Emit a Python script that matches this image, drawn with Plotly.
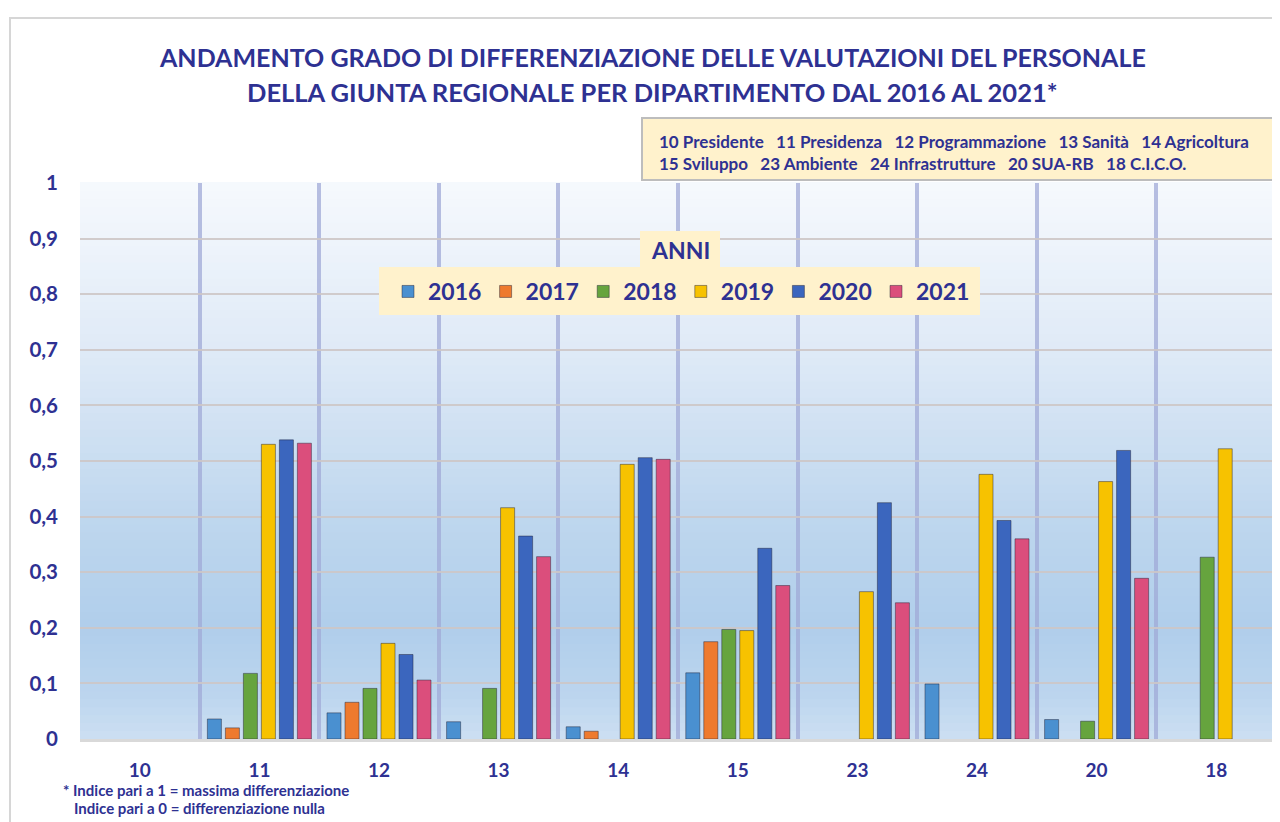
import plotly.graph_objects as go

# ---------------- data ----------------
categories = ["10", "11", "12", "13", "14", "15", "23", "24", "20", "18"]
years = ["2016", "2017", "2018", "2019", "2020", "2021"]
v2016 = [None, 0.036, 0.047, 0.031, 0.022, 0.119, None, 0.099, 0.035, None]
v2017 = [None, 0.020, 0.066, None, 0.014, 0.175, None, None, None, None]
v2018 = [None, 0.118, 0.091, 0.091, None, 0.197, None, None, 0.032, 0.327]
v2019 = [None, 0.530, 0.172, 0.416, 0.494, 0.195, 0.265, 0.476, 0.463, 0.522]
v2020 = [None, 0.538, 0.152, 0.365, 0.506, 0.343, 0.425, 0.393, 0.519, None]
v2021 = [None, 0.532, 0.106, 0.328, 0.503, 0.276, 0.245, 0.360, 0.289, None]
series = [v2016, v2017, v2018, v2019, v2020, v2021]

y_tickvals = [0, 0.1, 0.2, 0.3, 0.4, 0.5, 0.6, 0.7, 0.8, 0.9, 1.0]
y_ticktext = ["0", "0,1", "0,2", "0,3", "0,4", "0,5", "0,6", "0,7", "0,8", "0,9", "1"]

title_line1 = "ANDAMENTO GRADO DI DIFFERENZIAZIONE DELLE VALUTAZIONI DEL PERSONALE"
title_line2 = "DELLA GIUNTA REGIONALE PER DIPARTIMENTO DAL 2016 AL 2021*"
dept_line1 = ["10 Presidente", "11 Presidenza", "12 Programmazione", "13 Sanità", "14 Agricoltura"]
dept_line2 = ["15 Sviluppo", "23 Ambiente", "24 Infrastrutture", "20 SUA-RB", "18 C.I.C.O."]
legend_title = "ANNI"
note_line1 = "* Indice pari a 1 = massima differenziazione"
note_line2 = "Indice pari a 0 = differenziazione nulla"

# ---------------- style ----------------
colors = ["#4A90D0", "#EE7A2E", "#66A43E", "#F7C200", "#3B66BE", "#DB4E7C"]
navy = "#2E3192"
beige = "#FFF2CC"
FONT = "Lato"

OFF = 8                      # page body margin
W, H = 1272, 814
L, R, T, B = 72, 4, 175, 83  # plot area (page) 80..1276 x 183..739
PW, PH = W - L - R, H - T - B


def px_x(px):
    return (px - OFF - L) / PW


def px_y(py):
    return (H - B - (py - OFF)) / PH


fig = go.Figure()
for name, vals, col in zip(years, series, colors):
    fig.add_trace(go.Bar(
        name="<b>%s</b>" % name, x=categories, y=vals,
        marker=dict(color=col, line=dict(color="rgba(30,30,50,0.45)", width=1)),
    ))

# background gradient of plot area
stops = [(0.0, (204, 223, 242)), (0.08, (188, 213, 238)), (0.2, (176, 206, 235)),
         (0.4, (191, 215, 238)), (0.7, (223, 234, 247)), (1.0, (246, 249, 253))]


def col_at(t):
    for (a, ca), (b, cb) in zip(stops[:-1], stops[1:]):
        if a <= t <= b:
            f = (t - a) / (b - a)
            return "rgb(%d,%d,%d)" % tuple(round(ca[i] + (cb[i] - ca[i]) * f) for i in range(3))
    return "rgb(%d,%d,%d)" % stops[-1][1]


shapes = []
N = 70
for i in range(N):
    y0 = i / N
    y1 = (i + 1) / N
    shapes.append(dict(type="rect", xref="paper", yref="paper", x0=0, x1=1, y0=y0, y1=y1 + 0.002,
                       fillcolor=col_at((y0 + y1) / 2), line=dict(width=0), layer="below"))

# outer frame
shapes.append(dict(type="rect", xref="paper", yref="paper",
                   x0=px_x(10), x1=px_x(1300), y0=px_y(860), y1=px_y(18),
                   fillcolor="rgba(0,0,0,0)", line=dict(color="#D6D6D6", width=2), layer="below"))
# department box
shapes.append(dict(type="rect", xref="paper", yref="paper",
                   x0=px_x(642), x1=px_x(1278), y0=px_y(180), y1=px_y(118),
                   fillcolor=beige, line=dict(color="#BDBDBD", width=2), layer="above"))
# legend boxes
shapes.append(dict(type="rect", xref="paper", yref="paper",
                   x0=px_x(379), x1=px_x(980), y0=px_y(315), y1=px_y(267),
                   fillcolor=beige, line=dict(width=0), layer="above"))
shapes.append(dict(type="rect", xref="paper", yref="paper",
                   x0=px_x(640), x1=px_x(720), y0=px_y(267.5), y1=px_y(231),
                   fillcolor=beige, line=dict(width=0), layer="above"))

sp = "\u00a0\u00a0\u00a0"
annotations = [
    dict(text="<b>%s</b>" % title_line1, x=px_x(652.5), y=px_y(57), xref="paper", yref="paper",
         showarrow=False, xanchor="center", yanchor="middle",
         font=dict(family=FONT, size=25, color=navy)),
    dict(text="<b>%s</b>" % title_line2, x=px_x(652.5), y=px_y(92), xref="paper", yref="paper",
         showarrow=False, xanchor="center", yanchor="middle",
         font=dict(family=FONT, size=25.5, color=navy)),
    dict(text="<b>%s</b>" % sp.join(dept_line1), x=px_x(657), y=px_y(141), xref="paper", yref="paper",
         showarrow=False, xanchor="left", yanchor="middle",
         font=dict(family=FONT, size=17, color=navy)),
    dict(text="<b>%s</b>" % sp.join(dept_line2), x=px_x(657), y=px_y(163), xref="paper", yref="paper",
         showarrow=False, xanchor="left", yanchor="middle",
         font=dict(family=FONT, size=17, color=navy)),
    dict(text="<b>%s</b>" % legend_title, x=px_x(680), y=px_y(250), xref="paper", yref="paper",
         showarrow=False, xanchor="center", yanchor="middle",
         font=dict(family=FONT, size=23, color=navy)),
    dict(text="<b>%s</b>" % note_line1, x=px_x(61), y=px_y(790), xref="paper", yref="paper",
         showarrow=False, xanchor="left", yanchor="middle",
         font=dict(family=FONT, size=15, color=navy)),
    dict(text="<b>%s</b>" % note_line2, x=px_x(72), y=px_y(808), xref="paper", yref="paper",
         showarrow=False, xanchor="left", yanchor="middle",
         font=dict(family=FONT, size=15, color=navy)),
]

fig.update_layout(
    width=W, height=H,
    margin=dict(l=L, r=R, t=T, b=B, pad=0),
    paper_bgcolor="white", plot_bgcolor="rgba(0,0,0,0)",
    separators=",.",
    barmode="group", bargap=0.097, bargroupgap=0.22,
    showlegend=True,
    legend=dict(orientation="h", x=px_x(388), xanchor="left", y=px_y(270), yanchor="top",
                bgcolor="rgba(0,0,0,0)", borderwidth=0, traceorder="normal",
                font=dict(family=FONT, size=23, color=navy),
                entrywidth=52.6, entrywidthmode="pixels"),
    shapes=shapes, annotations=annotations,
    font=dict(family=FONT, color=navy),
)
fig.update_xaxes(type="category", tickson="boundaries", showgrid=True, gridcolor="rgba(160,170,215,0.75)",
                 gridwidth=4, ticks="", showline=True, linecolor="#D9D9D9", linewidth=3,
                 tickfont=dict(family=FONT, size=19, color=navy), ticklabelstandoff=12,
                 tickprefix="<b>", ticksuffix="</b>")
fig.update_yaxes(range=[0, 1], tickvals=y_tickvals, ticktext=["<b>%s</b>" % t for t in y_ticktext],
                 showgrid=True, gridcolor="rgba(205,198,198,0.9)", gridwidth=2, zeroline=False,
                 tickfont=dict(family=FONT, size=20.5, color=navy), ticklabelstandoff=21, ticks="")

fig.write_html("out.html")
